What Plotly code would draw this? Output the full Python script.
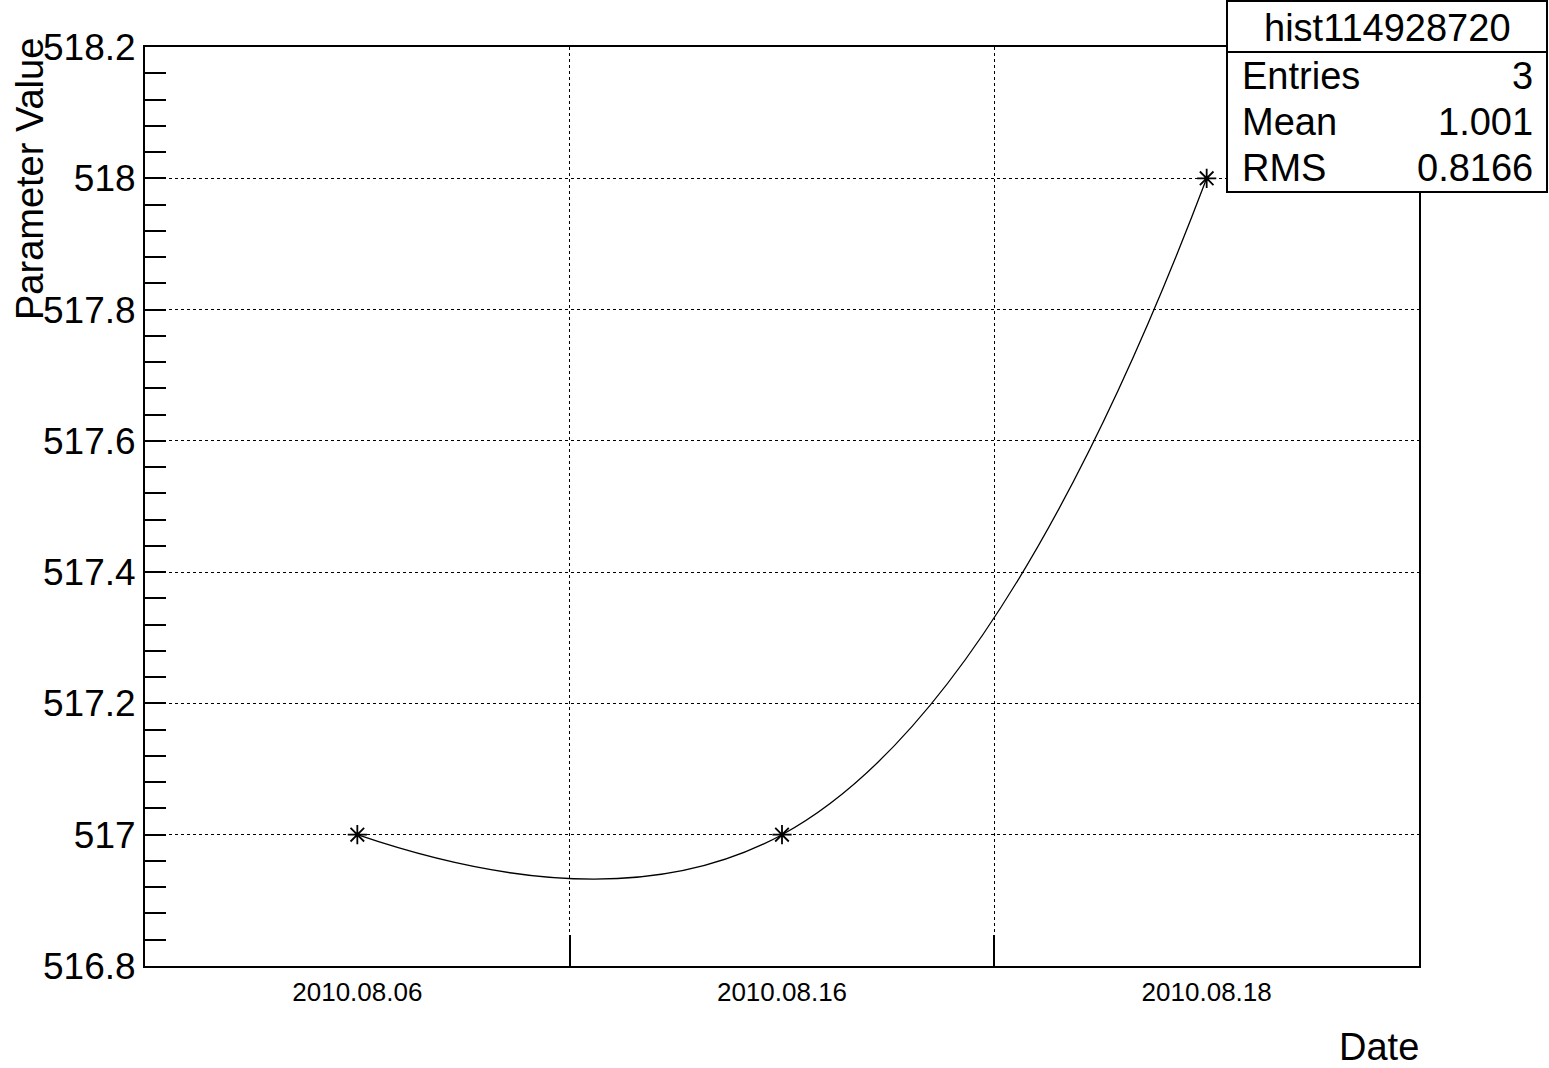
import plotly.graph_objects as go

# Run dates (one bin per run) and the fitted parameter value for each
dates = ["2010.08.06", "2010.08.16", "2010.08.18"]
values = [517.0, 517.0, 518.0]

# Statistics box contents
hist_name = "hist114928720"
stat_labels = ["Entries", "Mean", "RMS"]
stat_values = ["3", "1.001", "0.8166"]

# Y axis range and tick steps
y_min, y_max = 516.8, 518.2
y_major, y_minor = 0.2, 0.04

W, H = 1549, 1068
L, R, T, B = 145, 1419, 47, 966  # plot frame in pixels

FONT = "Liberation Sans, Arial, Helvetica, sans-serif"

# bins centred at 0.5, 1.5, 2.5 on a 0..N axis
x_centres = [i + 0.5 for i in range(len(dates))]
bin_edges = [i for i in range(1, len(dates))]


def px(x):
    return (x - L) / (R - L)


def py(y):
    return (B - y) / (B - T)


fig = go.Figure()

fig.add_trace(go.Scatter(
    x=x_centres, y=values,
    mode="lines+markers",
    line=dict(color="black", width=1.3, shape="spline", smoothing=1.3),
    marker=dict(symbol="asterisk-open", size=16,
                line=dict(color="black", width=1.8), color="black"),
    showlegend=False, hoverinfo="skip",
))

# invisible trace to activate the secondary x axis that carries bin-edge ticks
fig.add_trace(go.Scatter(x=[0, len(dates)], y=[y_min, y_min], xaxis="x2",
                         mode="lines", line=dict(width=0), opacity=0,
                         showlegend=False, hoverinfo="skip"))

fig.update_layout(
    width=W, height=H,
    margin=dict(l=L, r=W - R, t=T, b=H - B, pad=0),
    paper_bgcolor="white", plot_bgcolor="white",
    font=dict(family=FONT, color="black"),
    xaxis=dict(
        range=[0, len(dates)],
        tickmode="array", tickvals=x_centres, ticktext=dates,
        ticks="", showgrid=False, zeroline=False,
        tickfont=dict(size=26, family=FONT),
        ticklabelstandoff=2,
        showline=True, mirror=True, linecolor="black", linewidth=2,
    ),
    xaxis2=dict(
        overlaying="x", range=[0, len(dates)], side="bottom",
        tickmode="array", tickvals=bin_edges,
        ticks="inside", ticklen=31, tickwidth=1.5, tickcolor="black",
        showticklabels=False, showgrid=True, gridcolor="black",
        griddash="dot", gridwidth=1, zeroline=False, showline=False,
    ),
    yaxis=dict(
        range=[y_min, y_max],
        tick0=y_min, dtick=y_major,
        ticks="inside", ticklen=21, tickwidth=1.5, tickcolor="black",
        minor=dict(tick0=y_min, dtick=y_minor, ticks="inside", ticklen=21,
                   tickwidth=1.5, tickcolor="black", showgrid=False),
        showgrid=True, gridcolor="black", griddash="dot", gridwidth=1,
        zeroline=False,
        tickfont=dict(size=37, family=FONT),
        ticklabelstandoff=0,
        tickformat="~g",
        showline=True, mirror=True, linecolor="black", linewidth=2,
    ),
)

# axis titles
fig.add_annotation(text="Parameter Value", xref="paper", yref="paper",
                   x=px(30), y=py(36), xanchor="center", yanchor="top",
                   textangle=-90, showarrow=False,
                   font=dict(size=38, family=FONT))
fig.add_annotation(text="Date", xref="paper", yref="paper",
                   x=px(1421), y=py(1047), xanchor="right", yanchor="middle",
                   showarrow=False, font=dict(size=38, family=FONT))

# statistics box
bx0, bx1, by0, by1, bsep = 1227, 1547, 1, 192, 52
fig.add_shape(type="rect", xref="paper", yref="paper",
              x0=px(bx0), x1=px(bx1), y0=py(by1), y1=py(by0),
              line=dict(color="black", width=2), fillcolor="white", layer="above")
fig.add_shape(type="line", xref="paper", yref="paper",
              x0=px(bx0), x1=px(bx1), y0=py(bsep), y1=py(bsep),
              line=dict(color="black", width=2), layer="above")
fig.add_annotation(text=hist_name, xref="paper", yref="paper",
                   x=px((bx0 + bx1) / 2), y=py(28), xanchor="center",
                   yanchor="middle", showarrow=False,
                   font=dict(size=38, family=FONT))
row_y = [76, 122, 168]
for lab, val, yy in zip(stat_labels, stat_values, row_y):
    fig.add_annotation(text=lab, xref="paper", yref="paper",
                       x=px(1240), y=py(yy), xanchor="left", yanchor="middle",
                       showarrow=False, font=dict(size=38, family=FONT))
    fig.add_annotation(text=val, xref="paper", yref="paper",
                       x=px(1535), y=py(yy), xanchor="right", yanchor="middle",
                       showarrow=False, font=dict(size=38, family=FONT))

fig.write_html("out.html")
